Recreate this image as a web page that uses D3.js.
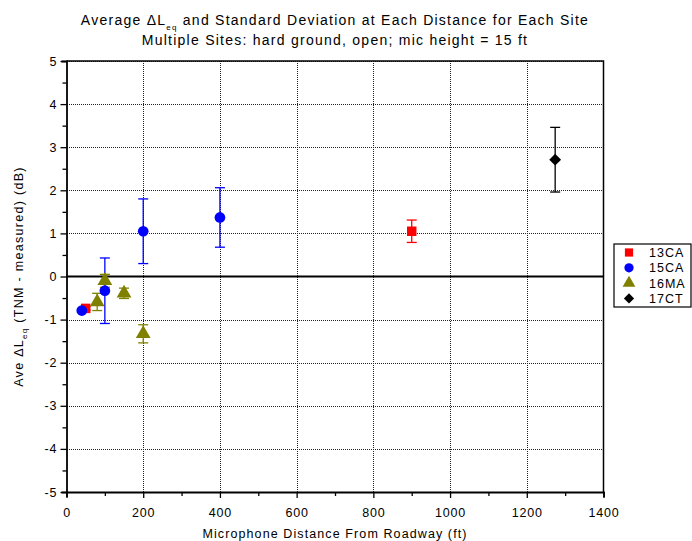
<!DOCTYPE html>
<html>
<head>
<meta charset="utf-8">
<script src="https://cdn.jsdelivr.net/npm/d3@7"></script>
<style>
  body { margin: 0; background: #fff; }
  svg { font-family: "Liberation Sans", Arial, sans-serif; }
</style>
</head>
<body>
<div id="chart"></div>
<script>
// Average delta Leq by distance, one series per site

const siteNames = ["13CA", "15CA", "16MA", "17CT"];
const siteColors = ["#ff0000", "#0000ff", "#808000", "#000000"];
const siteShapes = [d3.symbolSquare, d3.symbolCircle, d3.symbolTriangle, d3.symbolSquare];
const siteRotate = [0, 0, 0, 45];

const dist13CA = [50, 900];
const mean13CA = [-0.74, 1.05];
const sd13CA = [0.04, 0.26];

const dist15CA = [40, 100, 200, 400];
const mean15CA = [-0.79, -0.33, 1.05, 1.37];
const sd15CA = [0.03, 0.76, 0.75, 0.69];

const dist16MA = [80, 100, 150, 200];
const mean16MA = [-0.59, -0.10, -0.39, -1.33];
const sd16MA = [0.20, 0.15, 0.12, 0.21];

const dist17CT = [1274];
const mean17CT = [2.71];
const sd17CT = [0.75];

const xTicks = [0, 200, 400, 600, 800, 1000, 1200, 1400];
const yTicks = [-5, -4, -3, -2, -1, 0, 1, 2, 3, 4, 5];

const series = [
  { dist: dist13CA, mean: mean13CA, sd: sd13CA },
  { dist: dist15CA, mean: mean15CA, sd: sd15CA },
  { dist: dist16MA, mean: mean16MA, sd: sd16MA },
  { dist: dist17CT, mean: mean17CT, sd: sd17CT }
].map((s, i) => ({
  name: siteNames[i],
  color: siteColors[i],
  shape: siteShapes[i],
  rot: siteRotate[i],
  points: s.dist.map((d, j) => ({ x: d, y: s.mean[j], e: s.sd[j] }))
}));

const width = 692, height = 541;
const margin = { left: 66.5, right: 88.5, top: 61, bottom: 49 };
const font = "Liberation Sans, Arial, sans-serif";

const svg = d3.select("#chart").append("svg")
  .attr("width", width)
  .attr("height", height);

const x = d3.scaleLinear().domain([0, 1400]).range([margin.left, width - margin.right]);
const y = d3.scaleLinear().domain([-5, 5]).range([height - margin.bottom, margin.top]);
const crisp = v => Math.round(v) + 0.5;

function markerSize(s, legend) {
  const base = s.shape === d3.symbolTriangle ? 95 : s.rot ? 70 : 90;
  return legend ? base * 0.75 : base;
}

// grid
const grid = svg.append("g")
  .attr("stroke", "#222")
  .attr("stroke-width", 1)
  .attr("stroke-dasharray", "1,1")
  .attr("shape-rendering", "crispEdges");
grid.selectAll("line.v")
  .data(xTicks.slice(1, -1))
  .join("line")
  .attr("class", "v")
  .attr("x1", d => crisp(x(d))).attr("x2", d => crisp(x(d)))
  .attr("y1", y(-5)).attr("y2", y(5));
grid.selectAll("line.h")
  .data(yTicks.filter(d => d !== 0 && d !== -5))
  .join("line")
  .attr("class", "h")
  .attr("x1", x(0)).attr("x2", x(1400))
  .attr("y1", d => crisp(y(d))).attr("y2", d => crisp(y(d)));

// zero line
svg.append("line")
  .attr("x1", x(0)).attr("x2", x(1400))
  .attr("y1", y(0)).attr("y2", y(0))
  .attr("stroke", "#000")
  .attr("stroke-width", 1.8);

// frame top and right
svg.append("path")
  .attr("d", `M${x(0)},${y(5)}H${x(1400)}V${y(-5)}`)
  .attr("fill", "none")
  .attr("stroke", "#000")
  .attr("stroke-width", 1.5);

// axes
const xAxis = svg.append("g")
  .attr("transform", `translate(0,${y(-5)})`)
  .call(d3.axisBottom(x).tickValues(d3.range(0, 1401, 100)).tickSize(5).tickFormat(d => xTicks.includes(d) ? d : ""));
const yAxis = svg.append("g")
  .attr("transform", `translate(${x(0)},0)`)
  .call(d3.axisLeft(y).tickValues(d3.range(-5, 5.01, 0.5)).tickSize(5).tickFormat(d => Number.isInteger(d) ? d : ""));

[xAxis, yAxis].forEach(a => {
  a.select(".domain").attr("stroke-width", 1.8);
  a.selectAll(".tick line").attr("stroke-width", 1.3);
  a.selectAll("text").attr("font-size", 12.5).attr("fill", "#000")
    .attr("font-family", font).attr("letter-spacing", 0.8);
});
xAxis.selectAll(".tick text").attr("dy", "1.35em");
yAxis.selectAll(".tick text").attr("dx", "-0.1em");
xAxis.selectAll(".tick line").attr("y2", d => xTicks.includes(d) ? 6 : 4);
yAxis.selectAll(".tick line").attr("x2", d => Number.isInteger(d) ? -6 : -4);

// error bars and markers
const capW = 5;
series.forEach(s => {
  const g = svg.append("g");
  const eb = g.selectAll("g.eb").data(s.points).join("g")
    .attr("stroke", s.color).attr("stroke-width", 1.3);
  eb.append("line")
    .attr("x1", d => x(d.x)).attr("x2", d => x(d.x))
    .attr("y1", d => y(d.y - d.e)).attr("y2", d => y(d.y + d.e));
  eb.append("line")
    .attr("x1", d => x(d.x) - capW).attr("x2", d => x(d.x) + capW)
    .attr("y1", d => y(d.y + d.e)).attr("y2", d => y(d.y + d.e));
  eb.append("line")
    .attr("x1", d => x(d.x) - capW).attr("x2", d => x(d.x) + capW)
    .attr("y1", d => y(d.y - d.e)).attr("y2", d => y(d.y - d.e));
});
series.forEach(s => {
  svg.append("g").selectAll("path").data(s.points).join("path")
    .attr("d", d3.symbol().type(s.shape).size(markerSize(s, false)))
    .attr("transform", d => `translate(${x(d.x)},${y(d.y)}) rotate(${s.rot})`)
    .attr("fill", s.color);
});

// titles
const title = svg.append("g").attr("text-anchor", "middle").attr("font-size", 14)
  .attr("fill", "#000").attr("letter-spacing", 1.25);
const t1 = title.append("text").attr("x", 335).attr("y", 25);
t1.append("tspan").text("Average \u0394L");
t1.append("tspan").text("eq").attr("font-size", 8).attr("dy", 5);
t1.append("tspan").text(" and Standard Deviation at Each Distance for Each Site").attr("dy", -5);
title.append("text").attr("x", 335).attr("y", 45)
  .text("Multiple Sites: hard ground, open; mic height = 15 ft");

svg.append("text")
  .attr("x", x(700)).attr("y", 538)
  .attr("text-anchor", "middle")
  .attr("font-size", 12.5)
  .attr("letter-spacing", 1.1)
  .text("Microphone Distance From Roadway (ft)");

const yl = svg.append("text")
  .attr("transform", `translate(23,${y(0)}) rotate(-90)`)
  .attr("text-anchor", "middle")
  .attr("font-size", 12.5)
  .attr("letter-spacing", 1.3);
yl.append("tspan").text("Ave \u0394L");
yl.append("tspan").text("eq").attr("font-size", 8).attr("dy", 4);
yl.append("tspan").text(" (TNM - measured) (dB)").attr("dy", -4);

// legend
const legend = svg.append("g").attr("transform", "translate(614,244)");
legend.append("rect")
  .attr("width", 77).attr("height", 63)
  .attr("fill", "#fff").attr("stroke", "#000").attr("stroke-width", 1.2);
const item = legend.selectAll("g.item").data(series).join("g")
  .attr("transform", (d, i) => `translate(0,${8.5 + i * 15.3})`);
item.append("path")
  .attr("d", d => d3.symbol().type(d.shape).size(markerSize(d, true))())
  .attr("transform", d => `translate(15,0) rotate(${d.rot})`)
  .attr("fill", d => d.color);
item.append("text")
  .attr("x", 35).attr("y", 4.5)
  .attr("font-size", 12.5)
  .attr("letter-spacing", 1)
  .text(d => d.name);
</script>
</body>
</html>
